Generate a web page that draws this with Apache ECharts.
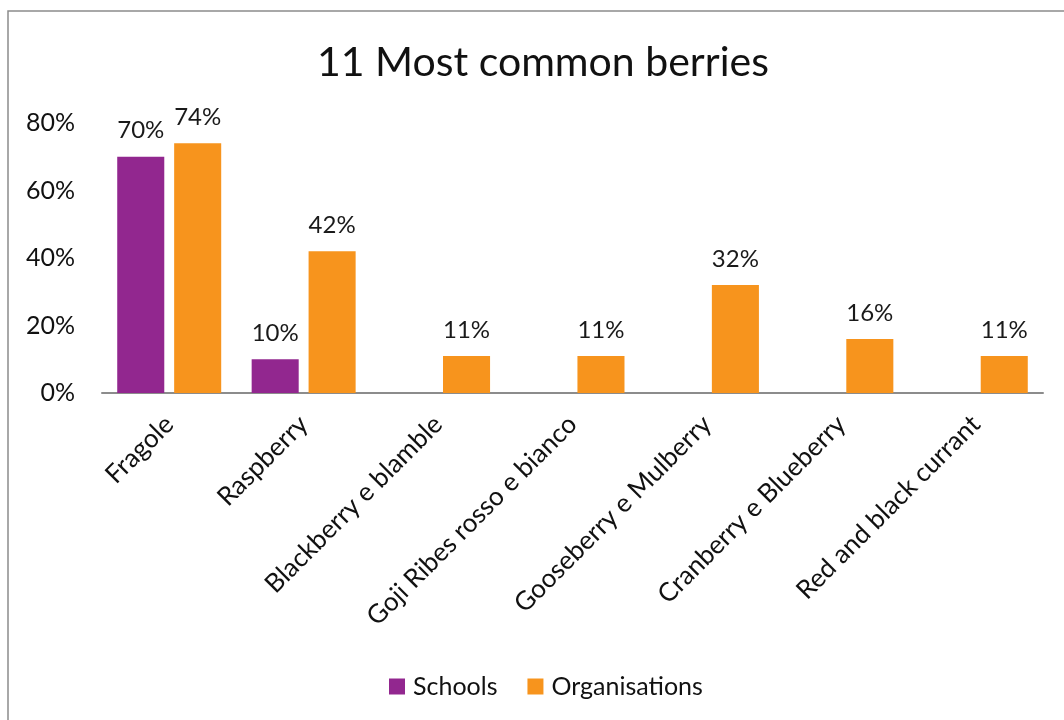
<!DOCTYPE html>
<html>
<head>
<meta charset="utf-8">
<script src="https://cdn.jsdelivr.net/npm/echarts@6/dist/echarts.min.js"></script>
<style>
  html, body { margin: 0; padding: 0; background: #fff; }
  #chart { width: 1064px; height: 720px; }
</style>
</head>
<body>
<div id="chart"></div>
<script>
// Berry categories and the share of respondents naming each one
const categories = [
  'Fragole',
  'Raspberry',
  'Blackberry e blamble',
  'Goji Ribes rosso e bianco',
  'Gooseberry e Mulberry',
  'Cranberry e Blueberry',
  'Red and black currant'
];
const schools = [70, 10, null, null, null, null, null];
const organisations = [74, 42, 11, 11, 32, 16, 11];
const yTicks = [0, 20, 40, 60, 80];

const FONT = 'Lato, "Open Sans", sans-serif';

const chart = echarts.init(document.getElementById('chart'), null, { renderer: 'canvas' });

const labelStyle = {
  show: true,
  position: 'top',
  distance: 14,
  fontFamily: FONT,
  fontSize: 24,
  color: '#1a1a1a',
  formatter: p => p.value + '%'
};

chart.setOption({
  backgroundColor: '#fff',
  animation: false,
  graphic: [{
    type: 'rect',
    shape: { x: 8, y: 11, width: 1100, height: 760 },
    style: { fill: 'none', stroke: '#8c8c8c', lineWidth: 1.5 },
    silent: true,
    z: -1
  }],
  title: {
    text: '11 Most common berries',
    left: 312,
    top: 37,
    textStyle: { fontFamily: FONT, fontSize: 41, fontWeight: 'normal', color: '#111' }
  },
  legend: {
    bottom: 16,
    left: 384,
    itemWidth: 16,
    itemHeight: 16,
    itemGap: 30,
    icon: 'rect',
    textStyle: { fontFamily: FONT, fontSize: 25, color: '#111', padding: [0, 0, 0, 3] },
    data: ['Schools', 'Organisations']
  },
  grid: { left: 102, right: 21, top: 123, bottom: 327, containLabel: false },
  xAxis: {
    type: 'category',
    data: categories,
    axisLine: { lineStyle: { color: '#8c8c8c', width: 2 } },
    axisTick: { show: false },
    axisLabel: {
      rotate: 45,
      interval: 0,
      margin: 27,
      fontFamily: FONT,
      fontSize: 26,
      color: '#111'
    }
  },
  yAxis: {
    type: 'value',
    min: yTicks[0],
    max: yTicks[yTicks.length - 1],
    interval: 20,
    axisLine: { show: false },
    axisTick: { show: false },
    splitLine: { show: false },
    axisLabel: {
      margin: 27,
      fontFamily: FONT,
      fontSize: 25,
      color: '#111',
      formatter: v => v + '%'
    }
  },
  series: [
    {
      name: 'Schools',
      type: 'bar',
      data: schools,
      barWidth: '35%',
      barGap: '21%',
      itemStyle: { color: '#92278F' },
      label: labelStyle
    },
    {
      name: 'Organisations',
      type: 'bar',
      data: organisations,
      barWidth: '35%',
      barGap: '21%',
      itemStyle: { color: '#F7941D' },
      label: labelStyle
    }
  ]
});
</script>
</body>
</html>
